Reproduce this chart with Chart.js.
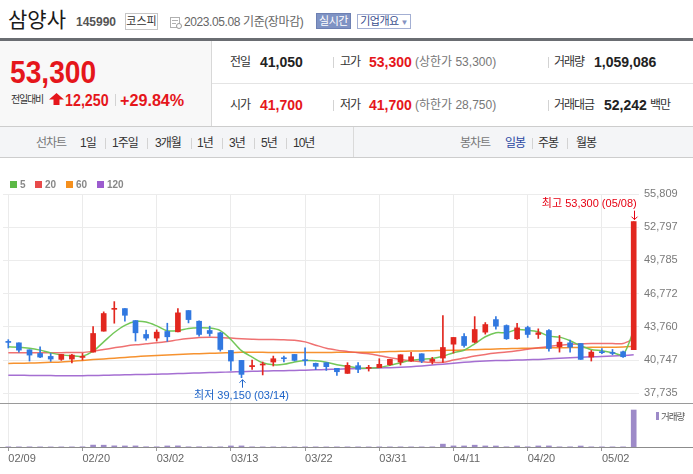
<!DOCTYPE html>
<html lang="ko">
<head>
<meta charset="utf-8">
<title>삼양사 일봉</title>
<script src="https://cdn.jsdelivr.net/npm/chart.js@4.4.1/dist/chart.umd.min.js"></script>
<style>
  html, body { margin: 0; padding: 0; background: #fff; }
  body {
    width: 693px; height: 474px; overflow: hidden; position: relative;
    font-family: 'Liberation Sans', 'Noto Sans CJK KR', sans-serif; color: #333;
  }
  .a { position: absolute; white-space: nowrap; line-height: 1; }
  .ko { letter-spacing: -1px; }
  .b { font-weight: bold; }
  .red { color: #e5161b; }
  .sep { position: absolute; width: 1px; background: #d3d3d3; }
  .box { position: absolute; text-align: center; font-size: 11px; box-sizing: border-box; }
  #chartWrap { position: absolute; left: 0; top: 160px; width: 693px; height: 314px; }
  .sq { position: absolute; width: 7px; height: 7px; top: 181px; }
  .lg { position: absolute; top: 180px; font: bold 10px/10px 'Liberation Sans', sans-serif; color: #888; }
</style>
</head>
<body>

<!-- title row -->
<div class="a" style="left:8px;top:9px;font-size:21px;color:#1a1a1a;">삼양사</div>
<div class="a b" style="left:76px;top:16px;font-size:12px;color:#555;">145990</div>
<div class="box" style="left:125px;top:13px;width:33px;height:17px;line-height:15px;border:1px solid #c6c6c6;color:#333;">코스피</div>
<svg class="a" style="left:170px;top:16px" width="12" height="13" viewBox="0 0 12 13">
  <rect x="0.5" y="1.5" width="9" height="10" fill="none" stroke="#b0b0b0"/>
  <line x1="2" y1="4.5" x2="8" y2="4.5" stroke="#b0b0b0"/>
  <line x1="2" y1="7.5" x2="6" y2="7.5" stroke="#b0b0b0"/>
  <circle cx="9" cy="10" r="2.5" fill="#fff" stroke="#999"/>
</svg>
<div class="a" style="left:184px;top:16px;font-size:12px;color:#666;letter-spacing:-0.4px;">2023.05.08 기준(장마감)</div>
<div class="box" style="left:316px;top:13px;width:35px;height:16px;line-height:14px;background:#7f93c4;border:1px solid #6d80b3;color:#fff;letter-spacing:-0.5px;">실시간</div>
<div class="box" style="left:357px;top:14px;width:54px;height:15px;line-height:13px;border:1px solid #a3afd3;color:#3b4e8e;letter-spacing:-0.5px;">기업개요<span style="font-size:8px;color:#8593c2;"> ▼</span></div>

<!-- info block -->
<div class="a" style="left:0;top:38px;width:693px;height:3px;background:#6a6d72;"></div>
<div class="a" style="left:0;top:41px;width:211px;height:85px;background:#f8f8f8;border-right:1px solid #d8d8d8;"></div>
<div class="a" style="left:212px;top:83px;width:481px;height:1px;background:#e4e4e4;"></div>

<div class="a b red" style="left:10px;top:56px;font-size:32px;transform:scaleX(0.88);transform-origin:left center;">53,300</div>
<div class="a" style="left:11px;top:95px;font-size:10px;letter-spacing:-1.2px;color:#333;">전일대비</div>
<svg class="a" style="left:49px;top:93px" width="15" height="12" viewBox="0 0 15 12">
  <polygon points="7.5,0 15,6.5 10.5,6.5 10.5,12 4.5,12 4.5,6.5 0,6.5" fill="#e5161b"/>
</svg>
<div class="a b red" style="left:65px;top:91.5px;font-size:17px;transform:scaleX(0.84);transform-origin:left center;">12,250</div>
<div class="sep" style="left:115px;top:94px;height:12px;"></div>
<div class="a b red" style="left:120px;top:91.5px;font-size:17px;transform:scaleX(0.95);transform-origin:left center;">+29.84%</div>

<!-- row 1 -->
<div class="a ko" style="left:230px;top:56px;font-size:12px;">전일</div>
<div class="a b" style="left:260px;top:55px;font-size:14px;color:#222;">41,050</div>
<div class="sep" style="left:333px;top:57px;height:11px;"></div>
<div class="a ko" style="left:340px;top:56px;font-size:12px;">고가</div>
<div class="a b red" style="left:369px;top:55px;font-size:14px;">53,300</div>
<div class="a" style="left:415px;top:56px;font-size:12px;color:#777;">(상한가 53,300)</div>
<div class="sep" style="left:548px;top:57px;height:11px;"></div>
<div class="a ko" style="left:554px;top:56px;font-size:12px;">거래량</div>
<div class="a b" style="left:594px;top:55px;font-size:14px;color:#222;">1,059,086</div>

<!-- row 2 -->
<div class="a ko" style="left:230px;top:99px;font-size:12px;">시가</div>
<div class="a b red" style="left:260px;top:98px;font-size:14px;">41,700</div>
<div class="sep" style="left:333px;top:100px;height:11px;"></div>
<div class="a ko" style="left:340px;top:99px;font-size:12px;">저가</div>
<div class="a b red" style="left:369px;top:98px;font-size:14px;">41,700</div>
<div class="a" style="left:415px;top:99px;font-size:12px;color:#777;">(하한가 28,750)</div>
<div class="sep" style="left:548px;top:100px;height:11px;"></div>
<div class="a ko" style="left:554px;top:99px;font-size:12px;">거래대금</div>
<div class="a b" style="left:604px;top:98px;font-size:14px;color:#222;">52,242</div>
<div class="a ko" style="left:650px;top:99px;font-size:12px;">백만</div>

<!-- chart type bar -->
<div class="a" style="left:0;top:126px;width:693px;height:30px;background:#f4f5f7;border-top:1px solid #cdcdcd;border-bottom:1px solid #cdcdcd;"></div>
<div class="sep" style="left:353px;top:127px;height:30px;background:#dadada;"></div>
<div class="a ko" style="left:36px;top:137px;font-size:12px;color:#777;">선차트</div>
<div class="a ko" style="left:80px;top:137px;font-size:12px;">1일</div>
<div class="sep" style="left:105px;top:138px;height:11px;"></div>
<div class="a ko" style="left:112px;top:137px;font-size:12px;">1주일</div>
<div class="sep" style="left:147px;top:138px;height:11px;"></div>
<div class="a ko" style="left:155px;top:137px;font-size:12px;">3개월</div>
<div class="sep" style="left:191px;top:138px;height:11px;"></div>
<div class="a ko" style="left:197px;top:137px;font-size:12px;">1년</div>
<div class="sep" style="left:222px;top:138px;height:11px;"></div>
<div class="a ko" style="left:229px;top:137px;font-size:12px;">3년</div>
<div class="sep" style="left:254px;top:138px;height:11px;"></div>
<div class="a ko" style="left:261px;top:137px;font-size:12px;">5년</div>
<div class="sep" style="left:286px;top:138px;height:11px;"></div>
<div class="a ko" style="left:293px;top:137px;font-size:12px;">10년</div>
<div class="a ko" style="left:460px;top:137px;font-size:12px;color:#777;">봉차트</div>
<div class="a ko" style="left:505px;top:137px;font-size:12px;color:#2b48a3;">일봉</div>
<div class="sep" style="left:532px;top:138px;height:11px;"></div>
<div class="a ko" style="left:538px;top:137px;font-size:12px;">주봉</div>
<div class="sep" style="left:567px;top:138px;height:11px;"></div>
<div class="a ko" style="left:576px;top:137px;font-size:12px;">월봉</div>

<div id="chartWrap"><canvas id="chart"></canvas></div>

<!-- moving average legend -->
<div class="sq" style="left:10px;background:#5cb946;"></div><div class="lg" style="left:20px;">5</div>
<div class="sq" style="left:35px;background:#e84a4a;"></div><div class="lg" style="left:45px;">20</div>
<div class="sq" style="left:66px;background:#f5901e;"></div><div class="lg" style="left:76px;">60</div>
<div class="sq" style="left:97px;background:#9c5ccf;"></div><div class="lg" style="left:107px;">120</div>
<div class="a" style="left:656px;top:412px;width:3px;height:8px;background:#9d8ac8;"></div>
<div class="a" style="left:661px;top:411.5px;font-size:9.5px;letter-spacing:-1px;color:#555;">거래량</div>

<script>
// trading days shown on the chart
const dates = ['02/09','02/10','02/13','02/14','02/15','02/16','02/17','02/20','02/21','02/22',
  '02/23','02/24','02/27','02/28','03/02','03/03','03/06','03/07','03/08','03/09',
  '03/10','03/13','03/14','03/15','03/16','03/17','03/20','03/21','03/22','03/23',
  '03/24','03/27','03/28','03/29','03/30','03/31','04/03','04/04','04/05','04/06',
  '04/07','04/10','04/11','04/12','04/13','04/14','04/17','04/18','04/19','04/20',
  '04/21','04/24','04/25','04/26','04/27','04/28','05/02','05/03','05/04','05/08'];
const tickDates = ['02/09','02/20','03/02','03/13','03/22','03/31','04/11','04/20','05/02'];
const priceTicks = [37735, 40747, 43760, 46772, 49785, 52797, 55809];

const opens = [42400,42310,41680,41350,41080,40810,40840,40990,41470,43370,
  45350,45420,44330,43070,42740,43340,43310,45240,44270,43430,
  43220,41620,40720,40150,40300,40570,40930,41260,40750,40450,
  40510,40000,39540,40240,40000,40060,40330,40570,40660,41320,
  40630,40930,42190,42890,42370,43280,44420,43880,42680,43700,
  43070,43430,41950,42310,42250,41020,41470,41410,41500,41700];
const highs = [42600,42310,41680,41950,41350,41260,41260,41350,43790,45120,
  46050,45420,44330,43460,43490,44090,45420,45240,44300,43820,
  43280,41620,40720,40750,40570,41110,41110,41260,41860,40480,
  40510,40000,40510,40510,40270,40870,40810,41230,41440,41320,
  40990,44780,42800,43160,44690,44150,44690,43940,44090,43820,
  43580,43520,42980,42560,42250,41620,41800,41710,41560,53300];
const lows = [41850,41470,40660,40960,40630,40720,40480,40750,41470,43370,
  44090,44270,42470,42560,42470,42440,43310,44120,42920,42920,
  41560,39810,39150,39900,39400,40210,40570,40660,40270,39880,
  39810,39360,39540,39600,39750,40060,40270,40300,40630,40510,
  40390,40540,41380,41920,42310,43100,43550,42620,42620,42800,
  42710,41560,41470,41470,40810,40660,41320,41230,40990,41700];
const closes = [42350,41650,41200,41020,40840,41260,41200,41050,43160,44970,
  45400,44810,43220,42740,43280,42860,45030,44420,43070,43160,
  41710,40660,39450,40250,40360,40870,40870,40720,40690,40180,
  40150,39690,40270,39910,40060,40360,40810,41230,41050,40660,
  40810,41890,42800,42070,43520,43970,43820,42680,43670,43070,
  43220,41800,42370,41920,40810,41470,41420,41350,41050,53300];
const volumes = [5000,4000,5000,4000,3000,4000,4000,6000,55000,52000,
  33000,30000,31000,7000,6000,30000,32000,6000,7000,4000,
  5000,30000,31000,5000,4000,4000,3000,4000,4000,4000,
  3000,4000,4000,4000,3000,4000,4000,5000,4000,4000,
  5000,82000,31000,30000,52000,30000,29000,6000,30000,6000,
  30000,31000,5000,6000,28000,5000,4000,4000,4000,1059086];

// moving averages
const ma5 = [41950,41920,41830,41650,41400,41220,41130,41100,41550,42400,
  43250,43900,44250,44200,43850,43400,43420,43620,43680,43650,
  43420,42620,41600,41020,40500,40320,40360,40580,40710,40690,
  40560,40330,40180,40040,40020,40070,40270,40500,40720,40820,
  40900,41100,41420,41640,42220,42860,43230,43230,43520,43460,
  43310,42920,42830,42500,42050,41700,41600,41420,41250,43450];
const ma20 = [41420,41420,41410,41410,41420,41420,41430,41440,41560,41710,
  41860,42010,42130,42220,42310,42430,42580,42700,42790,42820,
  42800,42740,42680,42640,42610,42610,42580,42550,42400,42100,
  41820,41650,41530,41410,41320,41150,40960,40810,40690,40600,
  40540,40540,40750,40930,41110,41260,41380,41470,41590,41740,
  41860,41980,42100,42190,42220,42250,42250,42250,42250,42680];
const ma60 = [40440,40460,40480,40500,40540,40580,40650,40720,40790,40850,
  40920,40990,41060,41110,41160,41210,41250,41290,41330,41360,
  41390,41420,41450,41460,41450,41440,41440,41440,41440,41440,
  41440,41450,41450,41450,41460,41480,41520,41540,41560,41580,
  41600,41620,41640,41660,41690,41720,41750,41780,41800,41820,
  41840,41860,41870,41880,41890,41900,41910,41920,41930,42000];
const ma120 = [39380,39370,39360,39350,39340,39330,39330,39330,39350,39370,
  39390,39410,39430,39450,39470,39490,39520,39550,39580,39610,
  39640,39670,39700,39730,39750,39770,39790,39810,39830,39860,
  39890,39920,39950,39980,40010,40040,40060,40100,40150,40220,
  40300,40380,40460,40540,40610,40660,40700,40720,40750,40780,
  40810,40860,40910,40960,41000,41040,41080,41120,41160,41220];

const RISE = '#e2271f';
const FALL = '#3178e0';
const candleColors = closes.map((c, i) => c >= opens[i] ? RISE : FALL);
const isTick = i => tickDates.includes(dates[i]);
const fmt = v => v.toLocaleString('en-US');

Chart.defaults.font.family = "'Liberation Sans', 'Noto Sans CJK KR', sans-serif";

function drawArrow(ctx, x, fromY, toY) {
  const dir = toY > fromY ? 1 : -1;
  x = Math.round(x) + 0.5;
  ctx.lineWidth = 1;
  ctx.beginPath();
  ctx.moveTo(x, fromY);
  ctx.lineTo(x, toY);
  ctx.moveTo(x - 3, toY - 3 * dir);
  ctx.lineTo(x, toY);
  ctx.lineTo(x + 3, toY - 3 * dir);
  ctx.stroke();
}

// pane separators plus the high / low markers
const overlay = {
  id: 'overlay',
  afterDatasetsDraw(chart) {
    const { ctx, width, scales: { x, y } } = chart;
    ctx.save();
    ctx.fillStyle = '#9a9a9a';
    ctx.fillRect(0, Math.round(y.bottom), width, 1);
    ctx.fillStyle = '#8c8c8c';
    ctx.fillRect(0, Math.round(x.top), width, 1);

    ctx.font = "11px 'Liberation Sans', 'Noto Sans CJK KR'";
    ctx.textBaseline = 'middle';

    const hi = highs.indexOf(Math.max(...highs));
    const hx = x.getPixelForValue(hi), hy = y.getPixelForValue(highs[hi]);
    ctx.fillStyle = ctx.strokeStyle = '#e60012';
    ctx.textAlign = 'right';
    ctx.fillText('최고 ' + fmt(highs[hi]) + ' (' + dates[hi] + ')', hx + 3, hy - 18);
    drawArrow(ctx, hx, hy - 11, hy - 2);

    const lo = lows.indexOf(Math.min(...lows));
    const lx = x.getPixelForValue(lo), ly = y.getPixelForValue(lows[lo]);
    ctx.fillStyle = ctx.strokeStyle = '#1e64c8';
    ctx.textAlign = 'center';
    ctx.fillText('최저 ' + fmt(lows[lo]) + ' (' + dates[lo] + ')', lx, ly + 18.5);
    drawArrow(ctx, lx, ly + 10, ly + 2);
    ctx.restore();
  }
};

const maLine = (label, data, color, order) => ({
  type: 'line', label, data, yAxisID: 'y', order,
  borderColor: color, borderWidth: 1.5, pointRadius: 0, tension: 0.3, fill: false
});

new Chart(document.getElementById('chart'), {
  type: 'bar',
  data: {
    labels: dates,
    datasets: [
      { label: 'body', data: opens.map((o, i) => [o, closes[i]]), yAxisID: 'y',
        backgroundColor: candleColors, barThickness: 5, minBarLength: 1, grouped: false, order: 0 },
      { label: 'wick', data: lows.map((l, i) => [l, highs[i]]), yAxisID: 'y',
        backgroundColor: candleColors, barThickness: 1, grouped: false, order: 1 },
      maLine('5', ma5, 'rgba(108,196,80,0.95)', 2),
      maLine('20', ma20, 'rgba(236,88,88,0.85)', 3),
      maLine('60', ma60, 'rgba(245,140,36,0.95)', 4),
      maLine('120', ma120, 'rgba(155,95,205,0.9)', 5),
      { label: '거래량', data: volumes, yAxisID: 'yv',
        backgroundColor: '#9d8ac8', barThickness: 5, grouped: false, order: 6 }
    ]
  },
  options: {
    responsive: true,
    maintainAspectRatio: false,
    animation: false,
    events: [],
    layout: { padding: { left: 3, right: 0, top: 34, bottom: 0 } },
    plugins: { legend: { display: false }, tooltip: { enabled: false } },
    scales: {
      x: {
        type: 'category',
        offset: true,
        grid: {
          offset: false,
          color: ctx => isTick(ctx.index) ? '#ebebeb' : 'rgba(0,0,0,0)',
          tickColor: ctx => isTick(ctx.index) ? '#999' : 'rgba(0,0,0,0)',
          tickLength: 4
        },
        border: { display: false },
        ticks: {
          autoSkip: false, maxRotation: 0, padding: 1, align: 'start',
          color: '#666', font: { size: 11 },
          callback: (v, i) => isTick(i) ? dates[i] : ''
        },
        afterFit: s => { s.height = 27; s.paddingLeft = 0; s.paddingRight = 0; }
      },
      y: {
        type: 'linear', position: 'right', stack: 'pane', stackWeight: 209,
        min: 36855, max: 55809,
        afterBuildTicks: s => { s.ticks = priceTicks.map(v => ({ value: v })); },
        grid: { color: '#ececec', drawTicks: false },
        border: { display: false },
        ticks: { color: '#7a7a7a', font: { size: 11 }, padding: 5, callback: v => fmt(v) },
        afterFit: s => { s.width = 54; }
      },
      yv: {
        type: 'linear', position: 'right', stack: 'pane', stackWeight: 44,
        min: 0, max: 1260000,
        grid: { display: false },
        border: { display: false },
        ticks: { display: false },
        afterFit: s => { s.width = 54; }
      }
    }
  },
  plugins: [overlay]
});
</script>
</body>
</html>
